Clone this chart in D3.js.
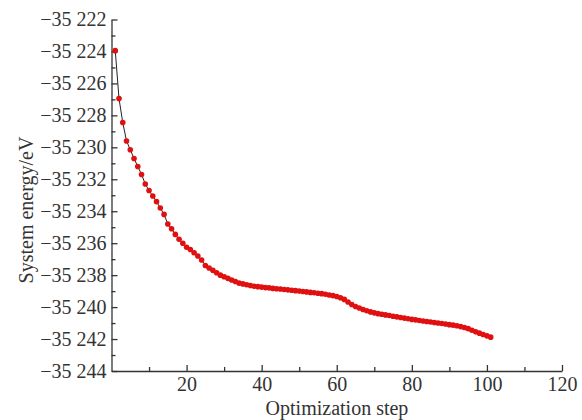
<!DOCTYPE html>
<html><head><meta charset="utf-8">
<script src="https://cdn.jsdelivr.net/npm/d3@7"></script>
<style>body{margin:0;background:#fff}svg{display:block}svg text{font-family:"Liberation Serif","Times New Roman",serif !important;fill:#333}</style>
</head><body><svg id="c" width="582" height="420"></svg>
<script>
const steps = d3.range(1, 102);
const energy = [
-35223.95,-35226.95,-35228.45,-35229.6,-35230.15,-35230.7,-35231.2,-35231.7,-35232.3,-35232.7,
-35233.05,-35233.4,-35233.8,-35234.2,-35234.8,-35235.1,-35235.45,-35235.75,-35236.0,-35236.25,
-35236.4,-35236.6,-35236.8,-35237.05,-35237.4,-35237.55,-35237.7,-35237.85,-35238.0,-35238.1,
-35238.2,-35238.3,-35238.4,-35238.5,-35238.55,-35238.6,-35238.65,-35238.7,-35238.72,-35238.75,
-35238.78,-35238.8,-35238.83,-35238.85,-35238.87,-35238.9,-35238.92,-35238.95,-35238.97,-35239.0,
-35239.02,-35239.05,-35239.08,-35239.1,-35239.13,-35239.16,-35239.2,-35239.24,-35239.28,-35239.34,
-35239.42,-35239.52,-35239.68,-35239.84,-35239.96,-35240.06,-35240.15,-35240.23,-35240.3,-35240.36,
-35240.41,-35240.45,-35240.49,-35240.53,-35240.57,-35240.61,-35240.65,-35240.69,-35240.73,-35240.77,
-35240.8,-35240.84,-35240.87,-35240.9,-35240.93,-35240.96,-35241.0,-35241.03,-35241.06,-35241.1,
-35241.13,-35241.17,-35241.22,-35241.28,-35241.35,-35241.45,-35241.55,-35241.63,-35241.72,-35241.8,
-35241.88];
const xTicks = [20, 40, 60, 80, 100, 120];
const xMinor = [10, 30, 50, 70, 90, 110];
const yTicks = [-35222,-35224,-35226,-35228,-35230,-35232,-35234,-35236,-35238,-35240,-35242,-35244];
const yMinor = [-35223,-35225,-35227,-35229,-35231,-35233,-35235,-35237,-35239,-35241,-35243];

const svg = d3.select("#c");
const x = d3.scaleLinear().domain([0, 120]).range([111.5, 562]);
const y = d3.scaleLinear().domain([-35244, -35222]).range([371, 19.5]);
const fmtY = v => "\u2212" + d3.format(",")(Math.abs(v)).replace(",", " ");

const gx = svg.append("g").attr("transform", "translate(0,371)");
gx.call(d3.axisBottom(x).tickValues(xTicks).tickSize(-6).tickPadding(14).tickSizeOuter(0));
gx.append("g").call(d3.axisBottom(x).tickValues(xMinor).tickSize(-4).tickFormat("").tickSizeOuter(0)).select(".domain").remove();
const gy = svg.append("g").attr("transform", "translate(111.5,0)");
gy.call(d3.axisLeft(y).tickValues(yTicks).tickSize(-6).tickPadding(5).tickFormat(fmtY).tickSizeOuter(0));
gy.append("g").call(d3.axisLeft(y).tickValues(yMinor).tickSize(-4).tickFormat("").tickSizeOuter(0)).select(".domain").remove();
svg.selectAll("g").attr("font-family", null);
svg.selectAll(".domain").attr("stroke", "#333").attr("stroke-width", 1.3);
svg.selectAll(".tick line").attr("stroke", "#333").attr("stroke-width", 1.3);
svg.selectAll(".tick text").style("font-family", "'Liberation Serif', serif").style("font-size", "20px").attr("fill", "#333");
gx.selectAll(".tick text").attr("dy", "0.3em");

const pts = steps.map((s, i) => [s, energy[i]]);
svg.append("path").datum(pts)
  .attr("fill", "none").attr("stroke", "#222").attr("stroke-width", 1)
  .attr("d", d3.line().x(d => x(d[0])).y(d => y(d[1])));
svg.append("g").selectAll("circle").data(pts).join("circle")
  .attr("cx", d => x(d[0])).attr("cy", d => y(d[1])).attr("r", 2.8)
  .attr("fill", "#e01010");

svg.append("text").attr("x", 337).attr("y", 415).attr("text-anchor", "middle")
  .style("font-size", "20px").text("Optimization step");
svg.append("text").attr("transform", "translate(33,210) rotate(-90)").attr("text-anchor", "middle")
  .style("font-size", "20px").text("System energy/eV");
</script></body></html>
